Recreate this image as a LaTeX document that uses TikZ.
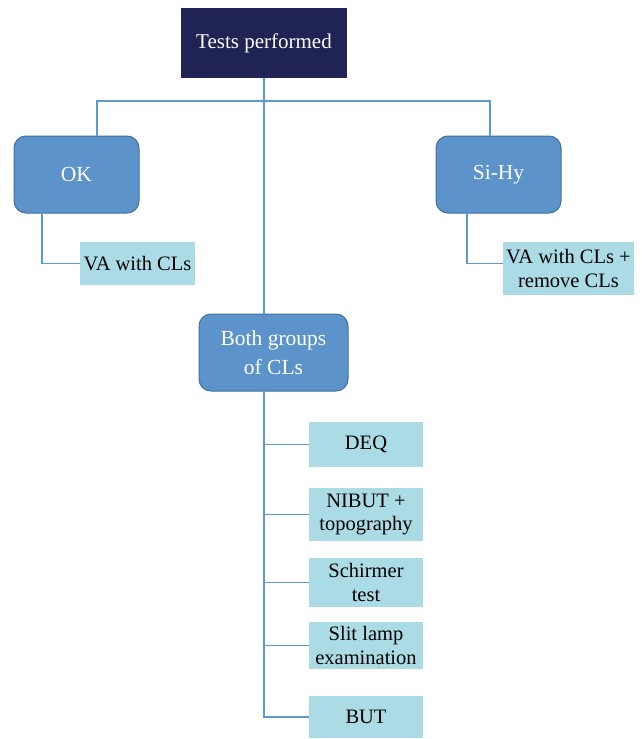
\documentclass[tikz,border=0pt]{standalone}
\usepackage{fontspec}
\setmainfont{Liberation Serif}
\definecolor{headnavy}{HTML}{1F2454}
\definecolor{groupblue}{HTML}{5B93CA}
\definecolor{groupedge}{HTML}{41719C}
\definecolor{testcyan}{HTML}{ABDCE6}
\definecolor{linkblue}{HTML}{5B9BD5}

\begin{document}
\begin{tikzpicture}[x=1pt,y=-1pt]

\tikzset{head/.style = {fill=headnavy, text=white, minimum width=166pt, minimum height=70pt, inner sep=0pt, font=\fontsize{21}{25}\selectfont}}
\tikzset{group/.style = {draw=groupedge, line width=1pt, fill=groupblue, rounded corners=12pt, text=white, align=center, inner sep=0pt, font=\fontsize{21.5}{29}\selectfont}}
\tikzset{test/.style = {fill=testcyan, align=center, inner sep=0pt, minimum width=114pt, font=\fontsize{20.5}{23.5}\selectfont}}
\tikzset{link/.style = {draw=linkblue, line width=1.2pt}}
\useasboundingbox (0,0) rectangle (642,739);
%nodes
\node[head] (tests) at (264,43) {Tests performed};
\node[group, minimum width=125pt, minimum height=77pt] (ok) at (76.5,174.5) {OK};
\node[group, minimum width=125pt, minimum height=77pt] (sihy) at (498.5,174.5) {Si-Hy};
\node[group, minimum width=149pt, minimum height=77pt] (both) at (273.5,352.5) {Both groups\\of CLs};
\node[test, minimum width=115pt, minimum height=43pt] (va) at (137.5,263.5) {VA with CLs};
\node[test, minimum width=131pt, minimum height=53pt] (varm) at (568.5,268.5) {VA with CLs +\\remove CLs};
\node[test, minimum height=45pt] (deq) at (366,444.5) {DEQ};
\node[test, minimum height=53pt] (nibut) at (366,514.5) {NIBUT +\\topography};
\node[test, minimum height=49pt] (schirmer) at (366,582.5) {Schirmer\\test};
\node[test, minimum height=47pt] (slit) at (366,645.5) {Slit lamp\\examination};
\node[test, minimum height=42pt] (but) at (366,717) {BUT};
%joints
\coordinate (okjoin) at (97,101);
\coordinate (sihyjoin) at (490,101);
\coordinate (okdrop) at (42,213);
\coordinate (sihydrop) at (467,213);
\coordinate (stem) at (264,391);
%edges
\draw[link] (tests.south) -- (tests.south |- both.north);
\draw[link] (okjoin |- ok.north) -- (okjoin) -- (sihyjoin) -- (sihyjoin |- sihy.north);
\draw[link] (okdrop) |- (va.west);
\draw[link] (sihydrop) |- (varm.west |- va.west);
\draw[link] (stem) |- (but.west);
\draw[link] (stem |- deq.west) -- (deq.west);
\draw[link] (stem |- nibut.west) -- (nibut.west);
\draw[link] (stem |- schirmer.west) -- (schirmer.west);
\draw[link] (stem |- slit.west) -- (slit.west);

\end{tikzpicture}
\end{document}
